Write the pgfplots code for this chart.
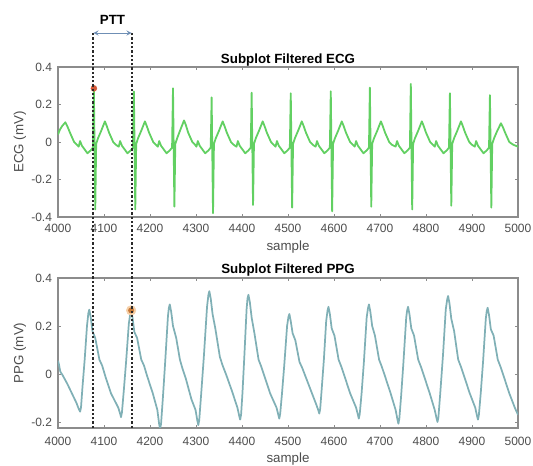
\documentclass[border=0pt]{standalone}
\usepackage{fontspec}
\setmainfont{Liberation Sans}
\usepackage{pgfplots}
\pgfplotsset{compat=1.18}
\usetikzlibrary{calc}
\definecolor{ecgc}{HTML}{62D062}
\definecolor{ppgc}{HTML}{80B0B6}
\definecolor{axgray}{HTML}{8C8C8C}
\definecolor{ticklab}{HTML}{4D4D4D}
\definecolor{dotred}{HTML}{D45A3A}
\definecolor{dotor}{HTML}{C97A3A}
\definecolor{halo}{HTML}{F6D0A8}
\definecolor{arrowc}{HTML}{6F8FB5}
\definecolor{dashc}{HTML}{2A2A2A}
\pgfplotsset{
  myax/.style={
    scale only axis, width=345pt, height=112.5pt,
    anchor=south west,
    xmin=4000, xmax=5000,
    xtick={4000,4100,...,5000},
    xtick pos=both, ytick pos=both,
    tick align=inside, major tick length=2.5pt,
    tick style={color=axgray, line width=0.6pt},
    axis line style={color=axgray, line width=0.8pt},
    /pgf/number format/assume math mode=true,
    /pgf/number format/1000 sep={},
    ticklabel style={font=\fontsize{9}{10}\selectfont, color=ticklab},
    xticklabel style={anchor=center, yshift=-8.5pt},
    yticklabel style={xshift=-1pt},
    label style={font=\fontsize{10}{12}\selectfont, color=ticklab},
    title style={font=\bfseries\fontsize{10}{12}\selectfont, color=black, at={(axis description cs:0.5,1)}, anchor=center},
    ylabel style={at={(axis description cs:-0.0826,0.5)}, anchor=center},
  }
}
\begin{document}
\begin{tikzpicture}
\useasboundingbox (0,0) rectangle (399.75pt,349.5pt);
% ---------------- ECG ----------------
\begin{axis}[myax, at={(43.5pt,186.75pt)},
  ymin=-0.4, ymax=0.4,
  ytick={-0.4,-0.2,0,0.2,0.4}, yticklabels={-0.4,-0.2,0,0.2,0.4},
  ylabel={ECG (mV)}, xlabel={sample},
  xlabel style={at={(axis description cs:0.5,0)}, anchor=center, yshift=-22.5pt},
  title={Subplot Filtered ECG}, title style={yshift=-0.9pt}]
\addplot[ecgc, line width=1.35pt, line join=round] coordinates {
(4000,0.04)(4004,0.065)(4009,0.085)(4016,0.105)(4021,0.08)(4026,0.05)(4035,0.0)(4041,-0.015)
(4045,-0.025)(4048,0.005)(4052,-0.02)(4058,-0.04)(4064,-0.06)(4071,-0.045)(4076,-0.03)(4078,0.286)(4081,-0.36)(4083,-0.01)(4087,0.02)(4094,0.06)(4102,0.11)(4106,0.085)(4111,0.05)(4120,0.0)(4126,-0.015)
(4132,-0.025)(4135,0.005)(4139,-0.02)(4145,-0.04)(4151,-0.06)(4158,-0.045)(4163,-0.03)(4165,0.27)(4168,-0.36)(4170,-0.01)(4174,0.02)(4181,0.06)(4189,0.11)(4193,0.085)(4198,0.05)(4207,0.0)(4213,-0.015)
(4217,-0.025)(4220,0.005)(4224,-0.02)(4230,-0.04)(4236,-0.06)(4243,-0.045)(4248,-0.03)(4250,0.286)(4253,-0.345)(4255,-0.01)(4259,0.02)(4266,0.065)(4274,0.115)(4278,0.09)(4283,0.05)(4292,0.0)(4298,-0.015)
(4301,-0.025)(4304,0.005)(4308,-0.02)(4314,-0.04)(4320,-0.06)(4327,-0.045)(4332,-0.03)(4334,0.238)(4337,-0.38)(4339,-0.01)(4343,0.02)(4350,0.06)(4358,0.11)(4362,0.085)(4367,0.05)(4376,0.0)(4382,-0.015)
(4388,-0.025)(4391,0.005)(4395,-0.02)(4401,-0.04)(4407,-0.06)(4414,-0.045)(4419,-0.03)(4421,0.263)(4424,-0.336)(4426,-0.01)(4430,0.02)(4437,0.06)(4445,0.11)(4449,0.085)(4454,0.05)(4463,0.0)(4469,-0.015)
(4473,-0.025)(4476,0.005)(4480,-0.02)(4486,-0.04)(4492,-0.06)(4499,-0.045)(4504,-0.03)(4506,0.26)(4509,-0.35)(4511,-0.01)(4515,0.02)(4522,0.06)(4530,0.11)(4534,0.085)(4539,0.05)(4548,0.0)(4554,-0.015)
(4560,-0.025)(4563,0.005)(4567,-0.02)(4573,-0.04)(4579,-0.06)(4586,-0.045)(4591,-0.03)(4593,0.27)(4596,-0.37)(4598,-0.01)(4602,0.02)(4609,0.06)(4617,0.11)(4621,0.085)(4626,0.05)(4635,0.0)(4641,-0.015)
(4645,-0.025)(4648,0.005)(4652,-0.02)(4658,-0.04)(4664,-0.06)(4671,-0.045)(4676,-0.03)(4678,0.29)(4681,-0.345)(4683,-0.01)(4687,0.02)(4694,0.06)(4702,0.11)(4706,0.085)(4711,0.05)(4720,0.0)(4726,-0.015)
(4734,-0.025)(4737,0.005)(4741,-0.02)(4747,-0.04)(4753,-0.06)(4760,-0.045)(4765,-0.03)(4767,0.31)(4770,-0.36)(4772,-0.01)(4776,0.02)(4783,0.06)(4791,0.11)(4795,0.085)(4800,0.05)(4809,0.0)(4815,-0.015)
(4819,-0.025)(4822,0.005)(4826,-0.02)(4832,-0.04)(4838,-0.06)(4845,-0.045)(4850,-0.03)(4852,0.26)(4855,-0.34)(4857,-0.01)(4861,0.02)(4868,0.06)(4876,0.11)(4880,0.085)(4885,0.05)(4894,0.0)(4900,-0.015)
(4906,-0.025)(4909,0.005)(4913,-0.02)(4919,-0.04)(4925,-0.06)(4932,-0.045)(4937,-0.03)(4939,0.25)(4942,-0.35)(4944,-0.01)(4948,0.02)(4955,0.06)(4963,0.10)(4967,0.08)(4972,0.05)(4981,0.0)(4990,-0.015)(5000,-0.025)
};
\addplot[only marks, mark=*, mark size=2.2pt, mark options={fill=dotred, draw=dotred}] coordinates {(4078,0.286)};
\end{axis}
% ---------------- PPG ----------------
\begin{axis}[myax, at={(43.5pt,28.5pt)},
  ymin=-0.225, ymax=0.4,
  ytick={-0.2,0,0.2,0.4}, yticklabels={-0.2,0,0.2,0.4},
  xticklabel style={yshift=-1.5pt},
  ylabel={PPG (mV)}, xlabel={sample},
  xlabel style={at={(axis description cs:0.5,0)}, anchor=center, yshift=-23pt},
  title={Subplot Filtered PPG}, title style={yshift=0pt}]
\addplot[ppgc, line width=1.3pt, line join=round] coordinates {
(4000,0.055)(4002,0.04)(4005,0.01)(4010,-0.005)(4020,-0.04)(4030,-0.08)(4040,-0.12)(4045,-0.145)(4048,-0.157)
(4050,-0.14)(4053,-0.06)(4058,0.06)(4063,0.2)(4066,0.253)(4068,0.268)
(4071,0.238)(4075,0.178)(4081,0.15)(4090,0.06)(4096,0.035)(4103,-0.01)(4115,-0.08)(4131,-0.14)(4135,-0.165)(4137,-0.18)
(4139,-0.16)(4143,-0.07)(4148,0.05)(4154,0.21)(4157,0.25)(4159,0.265)
(4162,0.235)(4166,0.175)(4172,0.15)(4181,0.06)(4187,0.035)(4194,-0.01)(4206,-0.08)(4216,-0.15)(4220,-0.21)(4222,-0.228)
(4224,-0.208)(4228,-0.1)(4233,0.05)(4239,0.24)(4241,0.275)(4243,0.29)
(4246,0.26)(4250,0.2)(4257,0.15)(4265,0.06)(4271,0.02)(4278,-0.02)(4290,-0.105)(4299,-0.15)(4303,-0.195)(4305,-0.213)
(4307,-0.193)(4311,-0.09)(4317,0.07)(4324,0.28)(4327,0.33)(4329,0.345)
(4332,0.315)(4336,0.25)(4342,0.19)(4352,0.07)(4358,0.035)(4366,-0.005)(4378,-0.07)(4390,-0.14)(4394,-0.175)(4396,-0.19)
(4398,-0.17)(4401,-0.08)(4405,0.07)(4410,0.27)(4412,0.315)(4414,0.33)
(4417,0.3)(4421,0.235)(4427,0.17)(4436,0.06)(4442,0.03)(4449,-0.01)(4461,-0.08)(4475,-0.14)(4479,-0.17)(4481,-0.186)
(4483,-0.166)(4487,-0.08)(4492,0.04)(4498,0.2)(4501,0.238)(4503,0.25)
(4506,0.22)(4510,0.17)(4516,0.14)(4525,0.05)(4531,0.025)(4538,-0.01)(4550,-0.07)(4562,-0.13)(4566,-0.152)(4568,-0.165)
(4570,-0.145)(4573,-0.07)(4578,0.06)(4583,0.22)(4586,0.265)(4588,0.28)
(4591,0.25)(4595,0.19)(4601,0.16)(4610,0.06)(4616,0.03)(4623,-0.01)(4635,-0.08)(4648,-0.14)(4652,-0.17)(4654,-0.186)
(4656,-0.166)(4660,-0.08)(4665,0.05)(4671,0.235)(4674,0.275)(4676,0.29)
(4679,0.26)(4683,0.2)(4689,0.16)(4698,0.06)(4704,0.03)(4711,-0.01)(4723,-0.08)(4734,-0.15)(4738,-0.19)(4740,-0.207)
(4742,-0.187)(4746,-0.09)(4751,0.05)(4757,0.235)(4759,0.265)(4761,0.28)
(4764,0.25)(4768,0.19)(4774,0.16)(4783,0.06)(4789,0.03)(4796,-0.01)(4808,-0.08)(4819,-0.15)(4823,-0.185)(4825,-0.20)
(4827,-0.18)(4831,-0.08)(4837,0.08)(4843,0.27)(4846,0.31)(4848,0.325)
(4851,0.295)(4855,0.23)(4861,0.18)(4870,0.06)(4876,0.03)(4883,-0.01)(4895,-0.08)(4907,-0.14)(4911,-0.175)(4913,-0.19)
(4915,-0.17)(4919,-0.08)(4924,0.05)(4930,0.23)(4932,0.262)(4934,0.276)
(4937,0.246)(4941,0.186)(4947,0.16)(4956,0.06)(4962,0.03)(4969,-0.01)(4981,-0.08)(4993,-0.14)(5000,-0.17)
};
\addplot[only marks, mark=*, mark size=3.6pt, mark options={fill=halo, draw=halo}] coordinates {(4159,0.265)};
\addplot[only marks, mark=*, mark size=2.0pt, mark options={fill=dotor, draw=dotor}] coordinates {(4159,0.265)};
\coordinate (B1) at (axis cs:4077,-0.225);
\coordinate (B2) at (axis cs:4160,-0.225);
\end{axis}
% ---------------- PTT annotation ----------------
\draw[dashc, line width=1.6pt, dash pattern=on 1.7pt off 1.5pt] (B1) -- ++(0,296.25pt);
\draw[dashc, line width=1.6pt, dash pattern=on 1.7pt off 1.5pt] (B2) -- ++(0,296.25pt);
\draw[arrowc, line width=0.7pt, <->, >=stealth] ([yshift=296.25pt]B1) -- ([yshift=296.25pt]B2);
\node[font=\bfseries\fontsize{10}{12}\selectfont, anchor=center] at ($(B1)!0.5!(B2)+(0,306pt)$) {PTT};
\end{tikzpicture}
\end{document}
